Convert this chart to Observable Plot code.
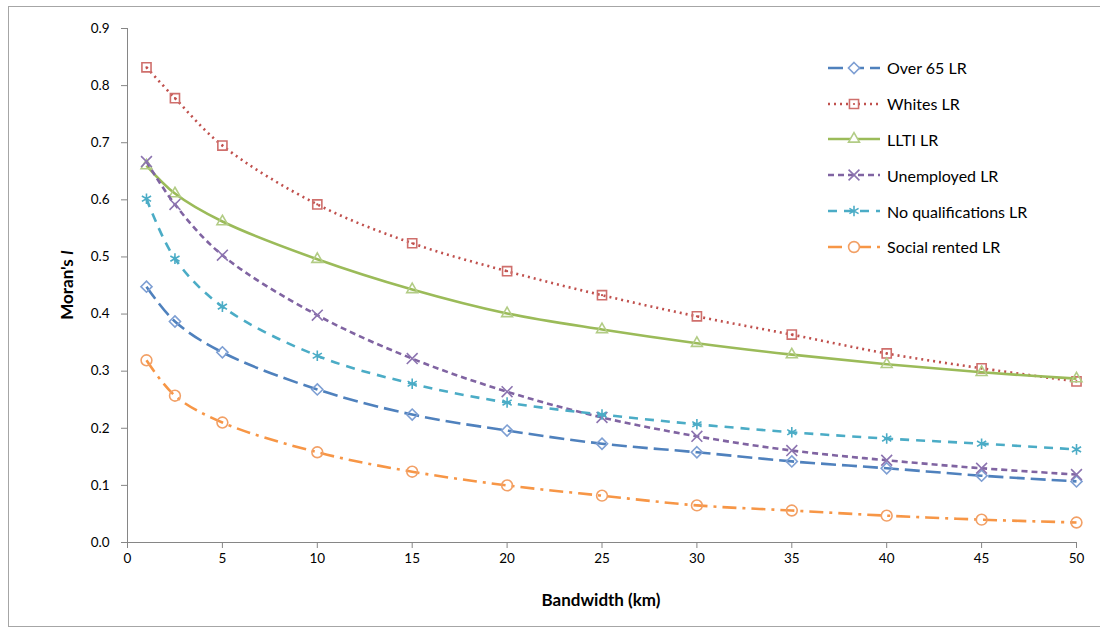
<!DOCTYPE html>
<html><head><meta charset="utf-8">
<script src="https://cdn.jsdelivr.net/npm/d3@7"></script>
<script src="https://cdn.jsdelivr.net/npm/@observablehq/plot@0.6"></script>
<style>
body{margin:0;background:#fff;font-family:Lato,"Open Sans",sans-serif}
#wrap{position:relative;width:1100px;height:631px;overflow:hidden;background:#fff}
#frame{position:absolute;left:8px;top:6px;width:1100px;height:621px;border:1px solid #a6a6a6;pointer-events:none;box-sizing:border-box}
#legend{position:absolute;left:826px;top:50px;font-size:16px;color:#000}
#legend .row{display:flex;align-items:center;height:35.8px}
#legend svg{margin-right:5px}
</style></head><body>
<div id="wrap"><div id="chart"></div><div id="frame"></div><div id="legend"></div></div>
<script>
// ---- data ----
const bandwidth = [1, 2.5, 5, 10, 15, 20, 25, 30, 35, 40, 45, 50];
const seriesNames = ["Over 65 LR", "Whites LR", "LLTI LR", "Unemployed LR", "No qualifications LR", "Social rented LR"];
const over65       = [0.448, 0.387, 0.333, 0.268, 0.224, 0.196, 0.173, 0.158, 0.142, 0.130, 0.117, 0.107];
const whites       = [0.832, 0.778, 0.695, 0.592, 0.524, 0.475, 0.433, 0.396, 0.364, 0.331, 0.305, 0.282];
const llti         = [0.660, 0.611, 0.562, 0.496, 0.443, 0.401, 0.373, 0.349, 0.329, 0.312, 0.298, 0.287];
const unemployed   = [0.667, 0.592, 0.503, 0.398, 0.322, 0.264, 0.219, 0.186, 0.161, 0.144, 0.130, 0.119];
const noQual       = [0.602, 0.497, 0.413, 0.327, 0.278, 0.245, 0.224, 0.207, 0.193, 0.182, 0.173, 0.163];
const socialRented = [0.319, 0.257, 0.210, 0.158, 0.124, 0.100, 0.082, 0.065, 0.056, 0.047, 0.040, 0.035];
const xTicks = [0, 5, 10, 15, 20, 25, 30, 35, 40, 45, 50];
const yTicks = [0, 0.1, 0.2, 0.3, 0.4, 0.5, 0.6, 0.7, 0.8, 0.9];
const seriesValues = [over65, whites, llti, unemployed, noQual, socialRented];

// ---- styles ----
const styles = [
  {color:"#4F81BD", marker:"#7E9FD3", symbol:"diamond2", r:5, dash:"15,6"},
  {color:"#C0504D", marker:"#CF6F6C", symbol:"square2", r:5.8, dash:"2,4"},
  {color:"#9BBB59", marker:"#B2CC85", symbol:"triangle2", r:5.2, dash:null},
  {color:"#8064A2", marker:"#8C74B0", symbol:"times", r:5, dash:"6,4"},
  {color:"#4BACC6", marker:"#4BACC6", symbol:"asterisk", r:5, dash:"9,7"},
  {color:"#F79646", marker:"#F2A066", symbol:"circle", r:5.4, dash:"14,6,3,6"}
];
const d3map = {diamond2:d3.symbolDiamond2, square2:d3.symbolSquare2, triangle2:d3.symbolTriangle2, times:d3.symbolTimes, asterisk:d3.symbolAsterisk, circle:d3.symbolCircle};

const rows = [];
seriesNames.forEach((name, i) => {
  bandwidth.forEach((b, j) => rows.push({series:name, idx:i, x:b, y:seriesValues[i][j]}));
});

const marks = [
  Plot.ruleX([0], {stroke:"#868686", strokeWidth:1}),
  Plot.ruleY([0], {stroke:"#868686", strokeWidth:1}),
  Plot.axisX({ticks:xTicks, tickSize:6, tickPadding:5, stroke:"#868686", label:null, fontSize:13.5, tickFormat:d=>d}),
  Plot.axisY({ticks:yTicks, tickSize:6, tickPadding:12, stroke:"#868686", label:null, fontSize:13.5, tickFormat:d3.format(".1f")})
];
seriesNames.forEach((name, i) => {
  const s = styles[i];
  const data = rows.filter(r => r.idx === i);
  marks.push(Plot.line(data, {x:"x", y:"y", stroke:s.color, strokeWidth:2.6, strokeDasharray:s.dash, curve:"catmull-rom", strokeLinecap:"butt"}));
  marks.push(Plot.dot(data, {x:"x", y:"y", symbol:s.symbol, r:s.r, stroke:s.marker, strokeWidth:1.6, fill:"none"}));
  if (s.symbol === "square2") marks.push(Plot.dot(data, {x:"x", y:"y", r:1.1, fill:s.color, stroke:null}));
});

const chart = Plot.plot({
  width:1100, height:631,
  marginLeft:127, marginRight:24, marginTop:28, marginBottom:89,
  style:{fontFamily:"Lato, 'Open Sans', sans-serif", fontSize:"13.5px", color:"#000", background:"transparent"},
  x:{domain:[0,50]},
  y:{domain:[0,0.9]},
  marks
});
document.getElementById("chart").appendChild(chart);

// axis titles
const svg = d3.select(chart);
svg.append("text").attr("x", 601).attr("y", 606).attr("text-anchor","middle")
  .attr("font-weight","bold").attr("font-size",17).attr("fill","#000").text("Bandwidth (km)");
const yl = svg.append("text").attr("transform","translate(73,285) rotate(-90)").attr("text-anchor","middle")
  .attr("font-weight","bold").attr("font-size",17).attr("fill","#000");
yl.append("tspan").text("Moran's ");
yl.append("tspan").attr("font-style","italic").text("I");

// legend
const leg = d3.select("#legend");
seriesNames.forEach((name, i) => {
  const s = styles[i];
  const row = leg.append("div").attr("class","row");
  const g = row.append("svg").attr("width",56).attr("height",16);
  g.append("line").attr("x1",2).attr("x2",54).attr("y1",8).attr("y2",8)
    .attr("stroke",s.color).attr("stroke-width",2.6).attr("stroke-dasharray",s.dash);
  g.append("path").attr("transform","translate(28,8)").attr("d", d3.symbol(d3map[s.symbol], Math.PI*s.r*s.r)())
    .attr("fill","#fff").attr("stroke",s.marker).attr("stroke-width",1.6);
  if (s.symbol === "square2") g.append("circle").attr("cx",28).attr("cy",8).attr("r",1.1).attr("fill",s.color);
  row.append("span").text(name);
});
</script>
</body></html>
